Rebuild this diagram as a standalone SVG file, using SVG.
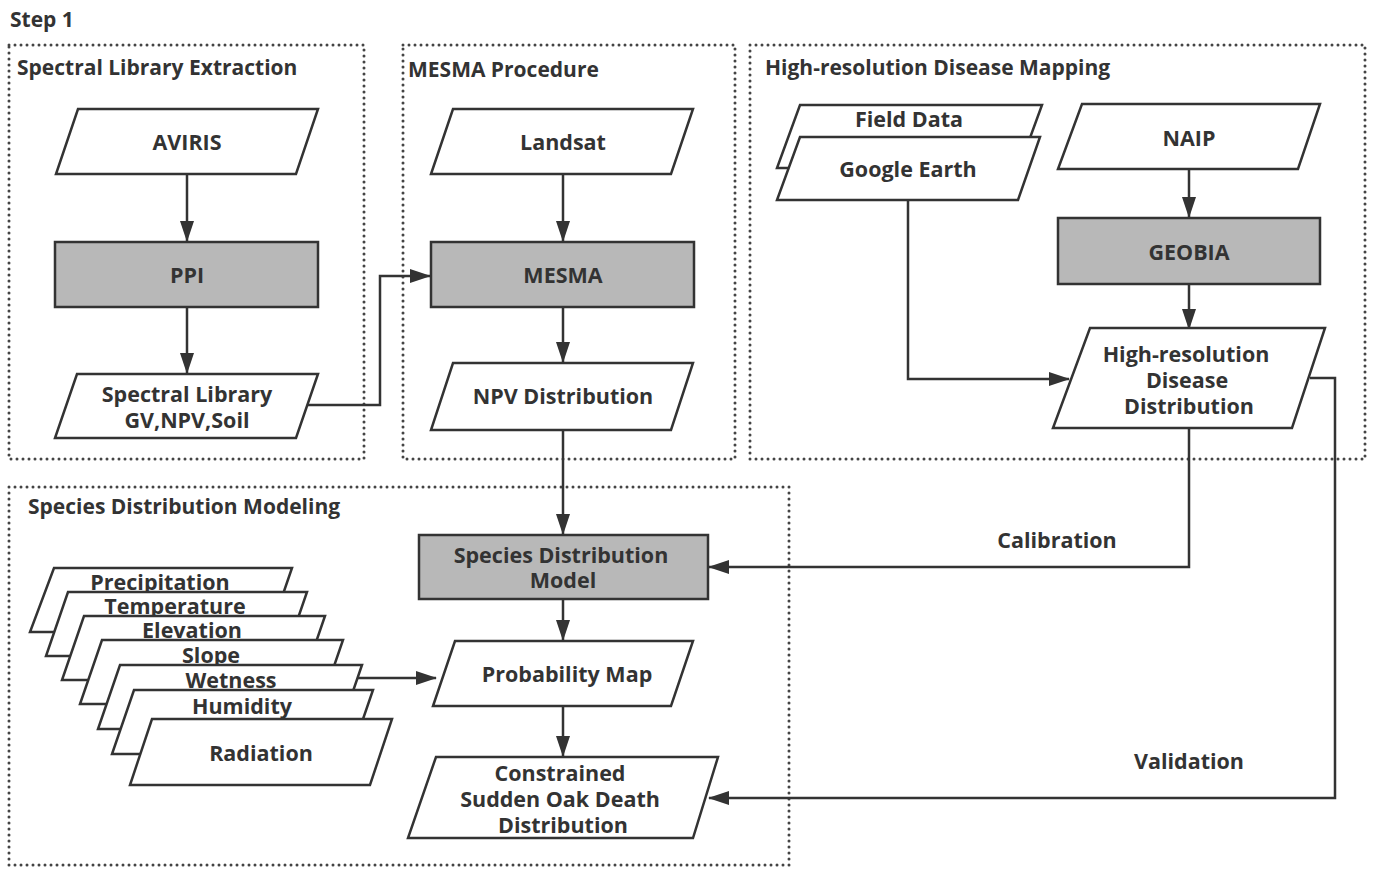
<svg xmlns="http://www.w3.org/2000/svg" width="1375" height="869" viewBox="0 0 1375 869">
<defs>
<marker id="ah" markerWidth="21" markerHeight="14" refX="20" refY="7" orient="auto" markerUnits="userSpaceOnUse">
<path d="M0,0 L21,7 L0,14 Z" fill="#333"/>
</marker>
<style>
.t{font-family:"Open Sans","Noto Sans","Liberation Sans",sans-serif;font-weight:bold;font-size:21.5px;fill:#333;text-anchor:middle;dominant-baseline:central}
.h{font-family:"Open Sans","Noto Sans","Liberation Sans",sans-serif;font-weight:bold;font-size:21px;fill:#333}
.grp{fill:none;stroke:#444;stroke-width:3;stroke-dasharray:0 6;stroke-linecap:round}
.p{fill:#fff;stroke:#333;stroke-width:2.5;stroke-linejoin:miter}
.g{fill:#b8b8b8;stroke:#333;stroke-width:2.5}
.c{fill:none;stroke:#333;stroke-width:2.5}
</style>
</defs>
<rect width="1375" height="869" fill="#fff"/>
<text class="h" x="10" y="27">Step 1</text>
<g id="groups">
<rect class="grp" x="9" y="45" width="355" height="414"/>
<rect class="grp" x="403" y="45" width="332" height="414"/>
<rect class="grp" x="750" y="45" width="615" height="414"/>
<rect class="grp" x="9" y="487" width="780" height="378"/>
<text class="h" x="17" y="75">Spectral Library Extraction</text>
<text class="h" x="408" y="77">MESMA Procedure</text>
<text class="h" x="765" y="75">High-resolution Disease Mapping</text>
<text class="h" x="28" y="514">Species Distribution Modeling</text>
</g>
<g id="connectors">
<path class="c" d="M187,174 V241" marker-end="url(#ah)"/>
<path class="c" d="M187,307 V373" marker-end="url(#ah)"/>
<path class="c" d="M308,405 H380 V276 H430" marker-end="url(#ah)"/>
<path class="c" d="M563,174 V241" marker-end="url(#ah)"/>
<path class="c" d="M563,307 V362" marker-end="url(#ah)"/>
<path class="c" d="M563,430 V534" marker-end="url(#ah)"/>
<path class="c" d="M563,599 V640" marker-end="url(#ah)"/>
<path class="c" d="M563,706 V756" marker-end="url(#ah)"/>
<path class="c" d="M358,678 H436" marker-end="url(#ah)"/>
<path class="c" d="M1189,169 V217" marker-end="url(#ah)"/>
<path class="c" d="M1189,284 V329" marker-end="url(#ah)"/>
<path class="c" d="M908,200 V379 H1069" marker-end="url(#ah)"/>
<path class="c" d="M1189,428 V567 H709" marker-end="url(#ah)"/>
<path class="c" d="M1310,378 H1335 V798 H709" marker-end="url(#ah)"/>
<text class="t" x="1057" y="539">Calibration</text>
<text class="t" x="1189" y="760">Validation</text>
</g>
<g id="aviris"><polygon class="p" points="78,109 318,109 296,174 56,174"/><text class="t" x="187" y="141">AVIRIS</text></g>
<g id="ppi"><rect class="g" x="55" y="242" width="263" height="65"/><text class="t" x="187" y="274">PPI</text></g>
<g id="spectral-library"><polygon class="p" points="77,374 318,374 296,438 55,438"/><text class="t" x="187" y="393">Spectral Library</text><text class="t" x="187" y="419">GV,NPV,Soil</text></g>
<g id="landsat"><polygon class="p" points="453,109 693,109 671,174 431,174"/><text class="t" x="563" y="141">Landsat</text></g>
<g id="mesma"><rect class="g" x="431" y="242" width="263" height="65"/><text class="t" x="563" y="274">MESMA</text></g>
<g id="npv"><polygon class="p" points="453,363 693,363 671,430 431,430"/><text class="t" x="563" y="395">NPV Distribution</text></g>
<g id="sdm"><rect class="g" x="419" y="535" width="289" height="64"/><text class="t" x="561" y="554">Species Distribution</text><text class="t" x="563" y="579">Model</text></g>
<g id="probability"><polygon class="p" points="455,641 693,641 671,706 433,706"/><text class="t" x="567" y="673">Probability Map</text></g>
<g id="constrained"><polygon class="p" points="436,757 718,757 693,838 408,838"/><text class="t" x="560" y="772">Constrained</text><text class="t" x="560" y="798">Sudden Oak Death</text><text class="t" x="563" y="824">Distribution</text></g>
<g id="field-data"><polygon class="p" points="800,105 1042,105 1019,168 777,168"/><text class="t" x="909" y="118">Field Data</text></g>
<g id="google-earth"><polygon class="p" points="800,137 1040,137 1018,200 777,200"/><text class="t" x="908" y="168">Google Earth</text></g>
<g id="naip"><polygon class="p" points="1082,104 1320,104 1298,169 1058,169"/><text class="t" x="1189" y="137">NAIP</text></g>
<g id="geobia"><rect class="g" x="1058" y="218" width="262" height="66"/><text class="t" x="1189" y="251">GEOBIA</text></g>
<g id="hrd"><polygon class="p" points="1090,328 1325,328 1292,428 1053,428"/><text class="t" x="1186" y="353">High-resolution</text><text class="t" x="1187" y="379">Disease</text><text class="t" x="1189" y="405">Distribution</text></g>
<g id="precipitation"><polygon class="p" points="54,568 292,568 270,632 30,632"/><text class="t" x="160" y="581">Precipitation</text></g>
<g id="temperature"><polygon class="p" points="68,592 307,592 285,656 46,656"/><text class="t" x="175" y="605">Temperature</text></g>
<g id="elevation"><polygon class="p" points="84,616 325,616 303,680 62,680"/><text class="t" x="192" y="629">Elevation</text></g>
<g id="slope"><polygon class="p" points="102,640 343,640 321,704 80,704"/><text class="t" x="211" y="654">Slope</text></g>
<g id="wetness"><polygon class="p" points="120,665 362,665 340,729 98,729"/><text class="t" x="231" y="679">Wetness</text></g>
<g id="humidity"><polygon class="p" points="134,690 373,690 351,754 112,754"/><text class="t" x="242" y="705">Humidity</text></g>
<g id="radiation"><polygon class="p" points="152,719 392,719 370,785 130,785"/><text class="t" x="261" y="752">Radiation</text></g>
</svg>
